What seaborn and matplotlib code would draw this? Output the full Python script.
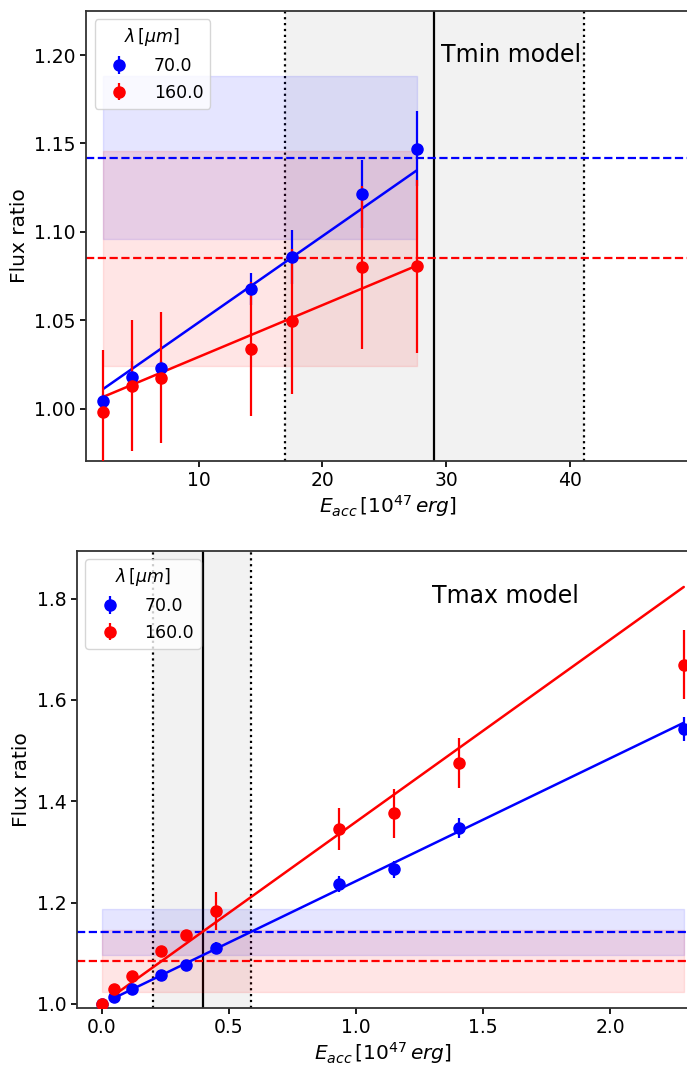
"""Flux ratio vs accreted energy for the Tmin and Tmax models."""

import matplotlib

matplotlib.use("Agg")
import matplotlib.pyplot as plt
import numpy as np
import pandas as pd
import seaborn as sns

BANDS = ["70.0", "160.0"]
BAND_COLORS = {"70.0": "blue", "160.0": "red"}

# observed flux ratio (dashed level) and its 1-sigma band
OBS_RATIO = {"70.0": 1.142, "160.0": 1.085}
OBS_ERR = {"70.0": 0.046, "160.0": 0.061}

# Tmin model
TMIN_E = [2.30, 4.60, 6.95, 14.19, 17.51, 23.16, 27.62]
TMIN_RATIO = {
    "70.0": [1.0045, 1.0181, 1.0230, 1.0675, 1.0858, 1.1214, 1.1471],
    "160.0": [0.9983, 1.0130, 1.0175, 1.0338, 1.0496, 1.0800, 1.0805],
}
TMIN_ERR = {
    "70.0": [0.004, 0.009, 0.004, 0.009, 0.015, 0.019, 0.021],
    "160.0": [0.035, 0.037, 0.037, 0.038, 0.041, 0.046, 0.049],
}
TMIN_SLOPE = {"70.0": 0.00488, "160.0": 0.00293}
TMIN_VLINES = [16.94, 29.05, 41.1]  # low, best, high

# Tmax model
TMAX_E = [0.0, 0.0485, 0.121, 0.233, 0.331, 0.451, 0.933, 1.150, 1.404, 2.29]
TMAX_RATIO = {
    "70.0": [1.0, 1.0132, 1.029, 1.0579, 1.0763, 1.110, 1.237, 1.266, 1.347, 1.543],
    "160.0": [1.0, 1.0296, 1.0559, 1.1046, 1.136, 1.1836, 1.345, 1.376, 1.475, 1.670],
}
TMAX_ERR = {
    "70.0": [0.003, 0.005, 0.005, 0.006, 0.006, 0.012, 0.015, 0.017, 0.020, 0.024],
    "160.0": [0.003, 0.006, 0.007, 0.008, 0.008, 0.038, 0.041, 0.049, 0.049, 0.068],
}
TMAX_SLOPE = {"70.0": 0.2424, "160.0": 0.3594}
TMAX_VLINES = [0.2036, 0.397, 0.588]


def setup_style():
    sns.set_theme(style="ticks")
    plt.rcParams.update(
        {
            "font.family": "DejaVu Sans",
            "text.color": "black",
            "axes.edgecolor": "#333333",
            "axes.linewidth": 1.3,
            "axes.labelcolor": "black",
            "xtick.color": "black",
            "ytick.color": "black",
            "xtick.labelsize": 13.5,
            "ytick.labelsize": 13.5,
            "axes.labelsize": 14.5,
            "xtick.major.size": 4,
            "ytick.major.size": 4,
            "mathtext.fontset": "dejavusans",
        }
    )


def draw_panel(ax, energy, ratio, err, slope, vlines, label, label_pos):
    energy = np.asarray(energy)
    lo, best, hi = vlines
    ax.axvspan(lo, hi, color="gray", alpha=0.1, lw=0, zorder=0)
    ax.axvline(lo, color="black", ls=":", lw=1.6, zorder=1)
    ax.axvline(hi, color="black", ls=":", lw=1.6, zorder=1)
    ax.axvline(best, color="black", lw=1.6, zorder=1)

    handles = []
    for band in BANDS:
        color = BAND_COLORS[band]
        ax.fill_between(
            [energy.min(), energy.max()],
            OBS_RATIO[band] - OBS_ERR[band],
            OBS_RATIO[band] + OBS_ERR[band],
            color=color,
            alpha=0.1,
            zorder=1,
        )
        ax.axhline(OBS_RATIO[band], color=color, ls="--", lw=1.6, zorder=2)

        fit_x = energy[energy > 0]
        fit = pd.DataFrame({"E": fit_x, "model": 1 + slope[band] * fit_x})
        sns.lineplot(data=fit, x="E", y="model", ax=ax, color=color, lw=1.8, legend=False, zorder=3)

        h = ax.errorbar(
            energy,
            ratio[band],
            yerr=err[band],
            fmt="o",
            color=color,
            ms=8,
            elinewidth=1.6,
            capsize=0,
            label=band,
            zorder=4,
        )
        handles.append(h)

    ax.text(label_pos[0], label_pos[1], label, fontsize=17, ha="left", va="center", color="black")
    ax.legend(
        handles=handles,
        title=r"$\lambda\,[\mu m]$",
        loc="upper left",
        fontsize=12.5,
        title_fontsize=12.5,
        handletextpad=1.0,
        frameon=True,
        fancybox=True,
        framealpha=0.8,
        edgecolor="#cccccc",
    )
    ax.set_xlabel(r"$E_{acc}\,[10^{47}\,erg]$", labelpad=2)
    ax.set_ylabel("Flux ratio")


setup_style()
fig = plt.figure(figsize=(6.87, 10.66), dpi=100)

ax_top = fig.add_axes([0.1252, 0.5678, 0.8775, 0.4222])
draw_panel(ax_top, TMIN_E, TMIN_RATIO, TMIN_ERR, TMIN_SLOPE, TMIN_VLINES, "Tmin model", (29.6, 1.2))
ax_top.set_xlim(0.9, 49.6)
ax_top.set_ylim(0.9706, 1.2251)
ax_top.set_xticks([10, 20, 30, 40])
ax_top.set_yticks([1.00, 1.05, 1.10, 1.15, 1.20])
ax_top.yaxis.set_major_formatter(matplotlib.ticker.FormatStrFormatter("%.2f"))

ax_bot = fig.add_axes([0.1116, 0.0547, 0.8911, 0.4287])
draw_panel(ax_bot, TMAX_E, TMAX_RATIO, TMAX_ERR, TMAX_SLOPE, TMAX_VLINES, "Tmax model", (1.30, 1.805))
ax_bot.set_xlim(-0.0986, 2.31)
ax_bot.set_ylim(0.9927, 1.8946)
ax_bot.set_xticks([0.0, 0.5, 1.0, 1.5, 2.0])
ax_bot.set_yticks([1.0, 1.2, 1.4, 1.6, 1.8])

fig.savefig("out.png", dpi=100)
plt.close(fig)
